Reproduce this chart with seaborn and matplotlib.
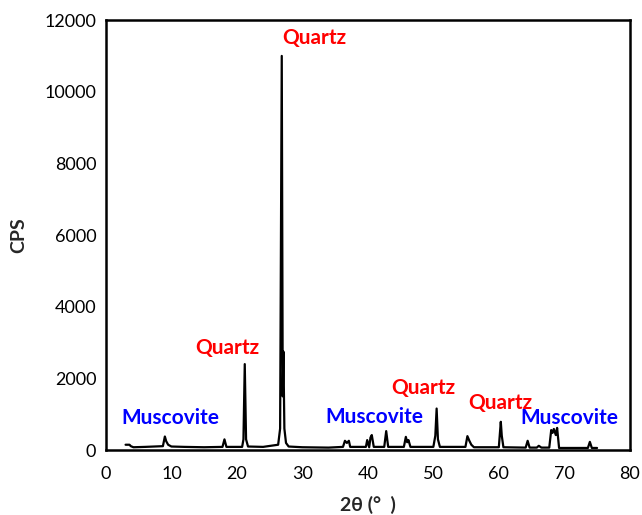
import matplotlib
matplotlib.use("Agg")
import matplotlib.pyplot as plt
import seaborn as sns
import pandas as pd

# XRD trace vertices (2theta in degrees, counts per second)
two_theta = [3.0, 3.6, 3.8, 4.2, 6.0, 8.7, 9.0, 9.2, 9.5, 10.0, 12.0, 15.0, 17.8, 18.1, 18.4,
             20.8, 21.0, 21.2, 21.4, 21.7, 24.0, 26.3, 26.6, 26.85, 27.0, 27.1, 27.25, 27.5, 27.9,
             30.0, 34.0, 36.2, 36.5, 36.8, 37.1, 37.3, 39.7, 39.9, 40.2, 40.4, 40.6, 40.9,
             42.5, 42.8, 43.1, 45.5, 45.8, 46.0, 46.2, 46.5, 50.0, 50.3, 50.5, 50.7, 51.0,
             54.9, 55.2, 55.5, 55.8, 56.2, 60.0, 60.3, 60.45, 60.7, 64.1, 64.4, 64.7, 65.8, 66.1,
             66.5, 67.7, 68.0, 68.2, 68.4, 68.7, 68.9, 69.2, 73.6, 73.9, 74.2, 75.0]
cps = [150, 150, 110, 80, 90, 110, 380, 250, 150, 100, 90, 80, 90, 300, 90,
       90, 300, 2400, 300, 100, 90, 150, 600, 11000, 1500, 2750, 600, 200, 100,
       80, 70, 90, 260, 200, 260, 90, 90, 280, 80, 350, 420, 90,
       90, 530, 90, 90, 370, 220, 280, 90, 90, 400, 1160, 300, 90,
       90, 390, 260, 150, 80, 80, 790, 400, 80, 70, 260, 70, 70, 120,
       70, 70, 560, 480, 590, 420, 620, 60, 60, 230, 60, 60]

label_text = ["Quartz", "Quartz", "Muscovite", "Muscovite", "Quartz", "Quartz", "Muscovite"]
label_x = [31.8, 18.5, 9.8, 41.0, 48.5, 60.3, 70.8]
label_y = [11500, 2850, 890, 920, 1730, 1310, 890]
label_color = ["red", "red", "blue", "blue", "red", "red", "blue"]

x_ticks = list(range(0, 81, 10))
y_ticks = list(range(0, 12001, 2000))

df = pd.DataFrame({"2theta": two_theta, "CPS": cps})

sns.set_style("white")
plt.rcParams["font.family"] = ["Lato", "DejaVu Sans"]

fig = plt.figure(figsize=(6.42, 5.15), dpi=100)
ax = fig.add_axes([0.165, 0.126, 0.816, 0.835])

sns.lineplot(data=df, x="2theta", y="CPS", ax=ax, color="black", linewidth=1.6, sort=False)

for t, x, y, c in zip(label_text, label_x, label_y, label_color):
    ax.text(x, y, t, color=c, fontsize=15, fontweight="bold", ha="center", va="center")

ax.set_xlim(0, 80)
ax.set_ylim(0, 12000)
ax.set_xticks(x_ticks)
ax.set_yticks(y_ticks)
ax.tick_params(direction="inout", length=7, width=1.5, labelsize=13, colors="black")
ax.tick_params(axis="x", pad=8)
for s in ax.spines.values():
    s.set_linewidth(1.8)
    s.set_color("black")

ax.set_xlabel("2θ (°  )", fontsize=14, fontweight="bold", labelpad=10)
ax.set_ylabel("CPS", fontsize=14, fontweight="bold", labelpad=12)

fig.savefig("out.png", dpi=100)
